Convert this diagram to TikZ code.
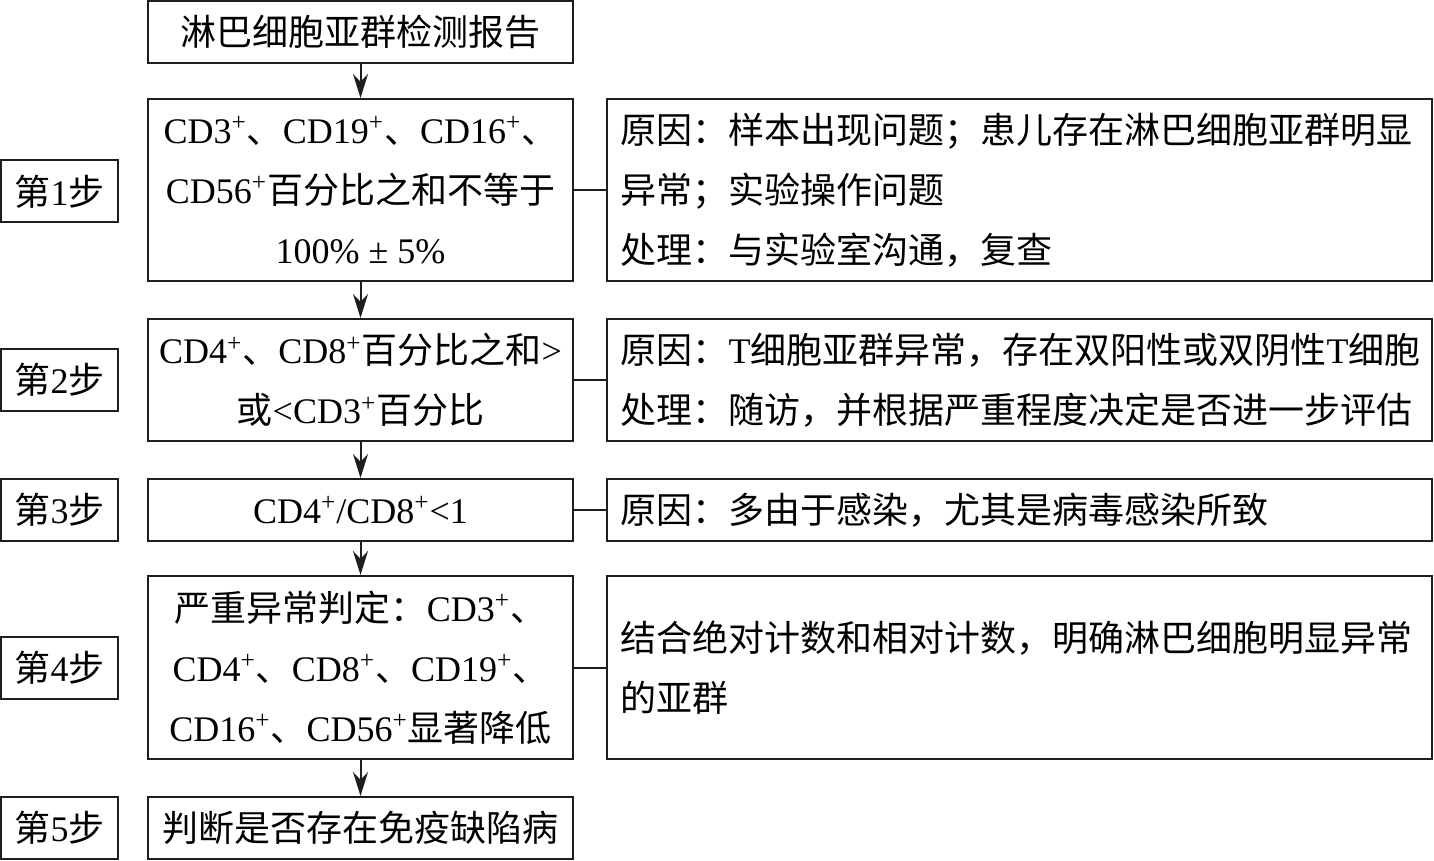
\documentclass[tikz,border=0pt]{standalone}
\usepackage{fontspec}
\setmainfont{Liberation Serif}
\newfontfamily\cjk{Noto Sans CJK SC}
\newfontfamily\latin{Liberation Serif}
\usetikzlibrary{arrows.meta}
\definecolor{ink}{RGB}{30,30,30}
\tikzset{
  mainbox/.style={draw=ink, line width=1pt, minimum width=212.5pt, inner sep=0pt,
    align=center, font=\cjk\fontsize{18}{30}\selectfont},
  stepbox/.style={draw=ink, line width=1pt, minimum width=58.5pt, minimum height=31pt,
    inner sep=0pt, font=\cjk\fontsize{18}{30}\selectfont},
  why/.style={draw=ink, line width=1pt, text width=399pt, inner xsep=6.75pt, inner ysep=0pt,
    align=left, font=\cjk\fontsize{18}{30}\selectfont},
  flow/.style={draw=ink, line width=1pt, -{Stealth[length=12pt,width=7.5pt]}},
  link/.style={draw=ink, line width=1pt},
}
\newcommand{\lat}[1]{{\latin #1}}
\newcommand{\cdp}[1]{{\latin CD#1\textsuperscript{+}}}

\begin{document}
\begin{tikzpicture}[x=0.5pt, y=0.5pt]
\useasboundingbox (0,0) rectangle (1434,-861);

% ------------------------------------------------- main column
\node[mainbox, minimum height=31pt] (report) at (360.5,-32) {淋巴细胞亚群检测报告};
\node[mainbox, minimum height=91pt] (s1) at (360.5,-190)
  {\cdp{3}、\cdp{19}、\cdp{16}、\\ \cdp{56}百分比之和不等于\\ \lat{100\% ± 5\%}};
\node[mainbox, minimum height=61pt] (s2) at (360.5,-380)
  {\cdp{4}、\cdp{8}百分比之和\lat{>}\\ 或\lat{<}\cdp{3}百分比};
\node[mainbox, minimum height=31pt] (s3) at (360.5,-510) {\cdp{4}\lat{/}\cdp{8}\lat{<1}};
\node[mainbox, minimum height=91.5pt] (s4) at (360.5,-667.5)
  {严重异常判定：\cdp{3}、\\ \cdp{4}、\cdp{8}、\cdp{19}、\\ \cdp{16}、\cdp{56}显著降低};
\node[mainbox, minimum height=31pt] (s5) at (360.5,-828) {判断是否存在免疫缺陷病};

% ------------------------------------------------- step labels
\foreach \i/\y in {1/191.5,2/380,3/510,4/667.5,5/828}
  \node[stepbox] (step\i) at (59.5,-\y) {第\lat{\i}步};

% ------------------------------------------------- reasons
\node[why, minimum height=91pt] (why1) at (1019.5,-190)
  {原因：样本出现问题；患儿存在淋巴细胞亚群明显\\ 异常；实验操作问题\\ 处理：与实验室沟通，复查};
\node[why, minimum height=61pt] (why2) at (1019.5,-380)
  {原因：\lat{T}细胞亚群异常，存在双阳性或双阴性\lat{T}细胞\\ 处理：随访，并根据严重程度决定是否进一步评估};
\node[why, minimum height=31pt] (why3) at (1019.5,-510)
  {原因：多由于感染，尤其是病毒感染所致};
\node[why, minimum height=91.5pt] (why4) at (1019.5,-667.5)
  {结合绝对计数和相对计数，明确淋巴细胞明显异常\\ 的亚群};

% ------------------------------------------------- connectors
\draw[flow] (report) -- (s1);
\foreach \a/\b in {1/2,2/3,3/4,4/5}
  \draw[flow] (s\a) -- (s\b);
\foreach \i in {1,...,4}
  \draw[link] (s\i) -- (why\i);

\end{tikzpicture}
\end{document}
